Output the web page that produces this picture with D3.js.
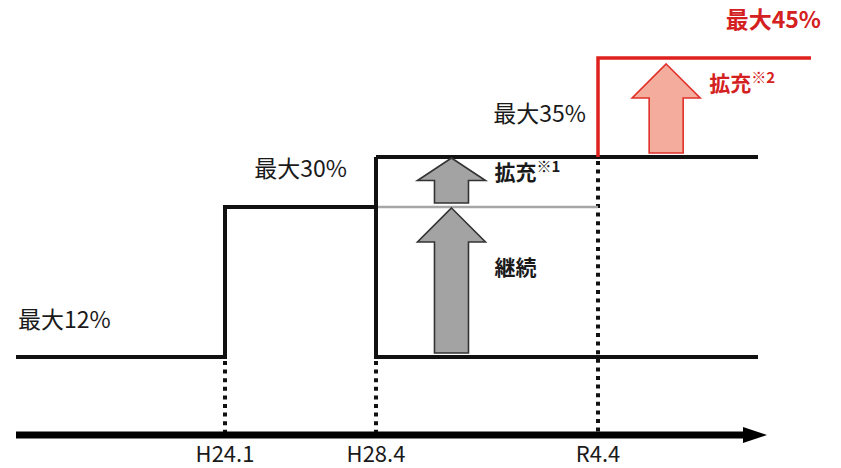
<!DOCTYPE html>
<html>
<head>
<meta charset="utf-8">
<script src="https://cdn.jsdelivr.net/npm/d3@7"></script>
<style>
  body { margin: 0; background: #fff; }
  text { font-family: "Noto Sans CJK JP", "Noto Sans", sans-serif; }
</style>
</head>
<body>
<svg id="chart" width="841" height="468"></svg>
<script>
// time points along the axis (schematic, not to scale)
var periods = ["start", "H24.1", "H28.4", "R4.4", "end", "redEnd"];
var tickLabels = ["H24.1", "H28.4", "R4.4"];

// max ratio levels (%)
var levels = [12, 30, 35, 45];
var levelLabels = ["最大12%", "最大30%", "最大35%", "最大45%"];

// step lines [period, level]
var blackSteps = [
  [["start", 12], ["H24.1", 12], ["H24.1", 30], ["H28.4", 30]],
  [["H28.4", 35], ["H28.4", 12], ["end", 12]],
  [["H28.4", 35], ["end", 35]]
];
var grayStep = [["H28.4", 30], ["R4.4", 30]];
var redStep = [["R4.4", 35], ["R4.4", 45], ["redEnd", 45]];

// arrows: from level -> to level, with label
var arrows = [
  { from: 12, to: 30, label: "継続", note: "", kind: "gray" },
  { from: 30, to: 35, label: "拡充", note: "※1", kind: "gray" },
  { from: 35, to: 45, label: "拡充", note: "※2", kind: "red" }
];

var svg = d3.select("#chart");

var x = d3.scaleOrdinal()
    .domain(periods)
    .range([16, 225, 376, 598, 758, 811]);

var y = d3.scaleLinear()
    .domain(levels)
    .range([357, 207, 157, 58]);

var axisY = 435;

var line = d3.line()
    .x(function(d) { return x(d[0]); })
    .y(function(d) { return y(d[1]); });

/* dotted guides from each tick down to the axis */
var guideTop = { "H24.1": 12, "H28.4": 12, "R4.4": 35 };
svg.append("g").selectAll("line")
    .data(tickLabels).enter()
    .append("line")
    .attr("x1", function(d) { return x(d); })
    .attr("x2", function(d) { return x(d); })
    .attr("y1", function(d) { return y(guideTop[d]) + 4; })
    .attr("y2", axisY)
    .attr("stroke", "#111")
    .attr("stroke-width", 4)
    .attr("stroke-dasharray", "4,4.6");

/* gray continued line */
svg.append("path")
    .datum(grayStep)
    .attr("d", line)
    .attr("fill", "none")
    .attr("stroke", "#a6a6a6")
    .attr("stroke-width", 2.5);

/* black steps */
svg.append("g").selectAll("path")
    .data(blackSteps).enter()
    .append("path")
    .attr("d", line)
    .attr("fill", "none")
    .attr("stroke", "#111")
    .attr("stroke-width", 4)
    .attr("stroke-linejoin", "miter");

/* red step */
svg.append("path")
    .datum(redStep)
    .attr("d", line)
    .attr("fill", "none")
    .attr("stroke", "#e0201c")
    .attr("stroke-width", 3.5);

/* time axis with arrow head */
svg.append("line")
    .attr("x1", x("start"))
    .attr("x2", 745)
    .attr("y1", axisY)
    .attr("y2", axisY)
    .attr("stroke", "#000")
    .attr("stroke-width", 7);
svg.append("path")
    .attr("d", "M743," + (axisY - 8) + "L767," + axisY + "L743," + (axisY + 8) + "Z")
    .attr("fill", "#000");

svg.append("g").selectAll("text")
    .data(tickLabels).enter()
    .append("text")
    .attr("x", function(d) { return x(d); })
    .attr("y", 462)
    .attr("text-anchor", "middle")
    .style("font-size", "22px")
    .attr("fill", "#1a1a1a")
    .text(function(d) { return d; });

/* level labels */
var labelPos = [
  { x: 18, dy: -29, anchor: "start", color: "#1a1a1a", weight: "normal" },
  { x: x("H28.4") - 29, dy: -30, anchor: "end", color: "#1a1a1a", weight: "normal" },
  { x: x("R4.4") - 12, dy: -35, anchor: "end", color: "#1a1a1a", weight: "normal" },
  { x: 821, dy: -30, anchor: "end", color: "#d42020", weight: "bold" }
];
svg.append("g").selectAll("text")
    .data(levels).enter()
    .append("text")
    .attr("x", function(d, i) { return labelPos[i].x; })
    .attr("y", function(d, i) { return y(d) + labelPos[i].dy; })
    .attr("text-anchor", function(d, i) { return labelPos[i].anchor; })
    .attr("fill", function(d, i) { return labelPos[i].color; })
    .style("font-weight", function(d, i) { return labelPos[i].weight; })
    .style("font-size", "23px")
    .text(function(d, i) { return levelLabels[i]; });

/* arrows */
function arrowPath(cx, yTop, yBot) {
  var hw = 34, sw = 17;
  var hh = Math.min(34, (yBot - yTop) / 2);
  return "M" + cx + "," + yTop +
    "L" + (cx + hw) + "," + (yTop + hh) +
    "L" + (cx + sw) + "," + (yTop + hh) +
    "L" + (cx + sw) + "," + yBot +
    "L" + (cx - sw) + "," + yBot +
    "L" + (cx - sw) + "," + (yTop + hh) +
    "L" + (cx - hw) + "," + (yTop + hh) + "Z";
}
function arrowX(d) {
  return d.kind == "red"
    ? x("R4.4") + 0.32 * (x("redEnd") - x("R4.4"))
    : x("H28.4") + 0.34 * (x("R4.4") - x("H28.4"));
}
function arrowTop(d) { return y(d.to) + (d.kind == "red" ? 6 : 1); }
function arrowBot(d) { return y(d.from) - 4; }

svg.append("g").selectAll("path")
    .data(arrows).enter()
    .append("path")
    .attr("d", function(d) { return arrowPath(arrowX(d), arrowTop(d), arrowBot(d)); })
    .attr("fill", function(d) { return d.kind == "red" ? "#f4ad9c" : "#a3a3a3"; })
    .attr("stroke", function(d) { return d.kind == "red" ? "#e0302a" : "#333"; })
    .attr("stroke-width", 1.6)
    .attr("stroke-linejoin", "miter");

var arrowLabels = svg.append("g").selectAll("text")
    .data(arrows).enter()
    .append("text")
    .attr("x", function(d) { return arrowX(d) + 43; })
    .attr("y", function(d) {
      if (d.kind == "red") return arrowTop(d) + 27;
      if (d.from == 30) return arrowTop(d) + 22;
      return (arrowTop(d) + arrowBot(d)) / 2 - 6;
    })
    .attr("fill", function(d) { return d.kind == "red" ? "#d42020" : "#1a1a1a"; })
    .style("font-weight", "bold")
    .style("font-size", "21px");

arrowLabels.append("tspan").text(function(d) { return d.label; });
arrowLabels.append("tspan")
    .attr("dy", -8)
    .style("font-size", "15px")
    .style("font-weight", "bold")
    .text(function(d) { return d.note; });
</script>
</body>
</html>
